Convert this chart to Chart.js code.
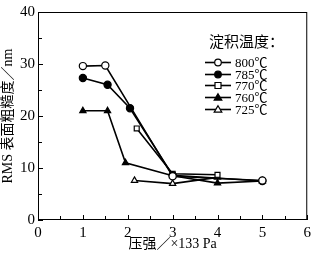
<!DOCTYPE html>
<html>
<head>
<meta charset="utf-8">
<script src="https://cdn.jsdelivr.net/npm/chart.js@4.4.1/dist/chart.umd.min.js"></script>
<style>
  html, body { margin: 0; padding: 0; background: #fff; }
  #wrap { width: 315px; height: 253px; }
</style>
</head>
<body>
<div id="wrap"><canvas id="chart"></canvas></div>
<script>
// Deposition temperatures (legend labels)
const seriesLabels = ["800℃", "785℃", "770℃", "760℃", "725℃"];

// pressure (×133 Pa) and RMS roughness (nm)
const press800 = [1.0, 1.5, 3.0, 5.0];
const rms800 = [29.6, 29.7, 8.4, 7.6];
const press785 = [1.0, 1.55, 2.05, 3.0, 5.0];
const rms785 = [27.3, 26.0, 21.5, 8.6, 7.5];
const press770 = [2.2, 3.0, 4.0];
const rms770 = [17.6, 8.9, 8.7];
const press760 = [1.0, 1.55, 1.95, 3.0, 4.0, 5.0];
const rms760 = [21.0, 21.0, 11.0, 8.5, 7.1, 7.5];
const press725 = [2.15, 3.0, 4.0];
const rms725 = [7.6, 7.0, 8.2];

const xTicks = [0, 1, 2, 3, 4, 5, 6];
const yTicks = [0, 10, 20, 30, 40];

const serif = "'Liberation Serif', 'Noto Sans CJK SC', serif";

const toPoints = (xs, ys) => xs.map((x, i) => ({ x: x, y: ys[i] }));

const makeSet = (label, xs, ys, style, filled) => ({
  label: label,
  data: toPoints(xs, ys),
  borderColor: "#000",
  borderWidth: 1.6,
  pointStyle: style,
  pointRadius: style === "rect" ? 3.5 : 3.6,
  pointBorderWidth: 1.2,
  pointBorderColor: "#000",
  pointBackgroundColor: filled ? "#000" : "#fff",
  showLine: true,
  tension: 0,
});

const datasets = [
  makeSet(seriesLabels[0], press800, rms800, "circle", false),
  makeSet(seriesLabels[1], press785, rms785, "circle", true),
  makeSet(seriesLabels[2], press770, rms770, "rect", false),
  makeSet(seriesLabels[3], press760, rms760, "triangle", true),
  makeSet(seriesLabels[4], press725, rms725, "triangle", false),
];

// inward ticks, frame and the legend box drawn on the canvas
const framePlugin = {
  id: "frame",
  afterDraw(chart) {
    const { ctx, chartArea, scales } = chart;
    const { left, right, top, bottom } = chartArea;
    ctx.save();
    ctx.strokeStyle = "#000";
    ctx.lineWidth = 1;
    ctx.strokeRect(left + 0.5, top + 0.5, right - left - 1, bottom - top - 1);

    // x ticks every 0.5
    for (let v = 0; v <= 6; v += 0.5) {
      const px = Math.round(scales.x.getPixelForValue(v)) + 0.5;
      const len = Number.isInteger(v) ? 5 : 4;
      ctx.beginPath();
      ctx.moveTo(px, bottom);
      ctx.lineTo(px, bottom - len);
      ctx.stroke();
    }
    // y ticks every 5
    for (let v = 0; v <= 40; v += 5) {
      const py = Math.round(scales.y.getPixelForValue(v)) + 0.5;
      const len = v % 10 === 0 ? 5 : 4;
      ctx.beginPath();
      ctx.moveTo(left, py);
      ctx.lineTo(left + len, py);
      ctx.stroke();
    }

    // legend
    ctx.fillStyle = "#000";
    ctx.textBaseline = "middle";
    ctx.font = "15px 'Noto Sans CJK SC', sans-serif";
    ctx.fillText("淀积温度：", 209, 41);
    ctx.font = "13px " + serif;
    chart.data.datasets.forEach((ds, i) => {
      const y = Math.round(62 + i * 11.7) + 0.5;
      ctx.lineWidth = 1.6;
      ctx.beginPath();
      ctx.moveTo(205, y);
      ctx.lineTo(231, y);
      ctx.stroke();
      ctx.lineWidth = 1.2;
      ctx.fillStyle = ds.pointBackgroundColor;
      ctx.beginPath();
      const cx = 218, r = 3.3;
      if (ds.pointStyle === "circle") {
        ctx.arc(cx, y, r, 0, Math.PI * 2);
      } else if (ds.pointStyle === "rect") {
        ctx.rect(cx - 3, y - 3, 6, 6);
      } else {
        ctx.moveTo(cx, y - 3.8);
        ctx.lineTo(cx + 3.8, y + 2.6);
        ctx.lineTo(cx - 3.8, y + 2.6);
        ctx.closePath();
      }
      ctx.fill();
      ctx.stroke();
      ctx.fillStyle = "#000";
      ctx.fillText(ds.label, 235, y + 1);
    });
    ctx.restore();
  },
};

new Chart(document.getElementById("chart"), {
  type: "scatter",
  data: { datasets: datasets },
  options: {
    responsive: true,
    maintainAspectRatio: false,
    animation: false,
    layout: { padding: { top: 5, right: 4, left: 0, bottom: 0 } },
    plugins: {
      legend: { display: false },
      tooltip: { enabled: false },
    },
    scales: {
      x: {
        type: "linear",
        min: 0,
        max: 6,
        afterBuildTicks: (scale) => { scale.ticks = xTicks.map((v) => ({ value: v })); },
        afterFit: (scale) => { scale.height = 33; },
        grid: { display: false, drawTicks: false },
        border: { display: false },
        ticks: { color: "#000", padding: 4, font: { family: serif, size: 15 } },
        title: {
          display: true,
          text: "压强／×133 Pa",
          color: "#000",
          padding: { top: 0, bottom: 0 },
          font: { family: serif, size: 14 },
        },
      },
      y: {
        min: 0,
        max: 40,
        afterBuildTicks: (scale) => { scale.ticks = yTicks.map((v) => ({ value: v })); },
        afterFit: (scale) => { scale.width = 38; },
        grid: { display: false, drawTicks: false },
        border: { display: false },
        ticks: { color: "#000", padding: 3, font: { family: serif, size: 15 } },
        title: {
          display: true,
          text: "RMS 表面粗糙度／nm",
          color: "#000",
          padding: { top: 0, bottom: 0 },
          font: { family: serif, size: 14 },
        },
      },
    },
  },
  plugins: [framePlugin],
});
</script>
</body>
</html>
